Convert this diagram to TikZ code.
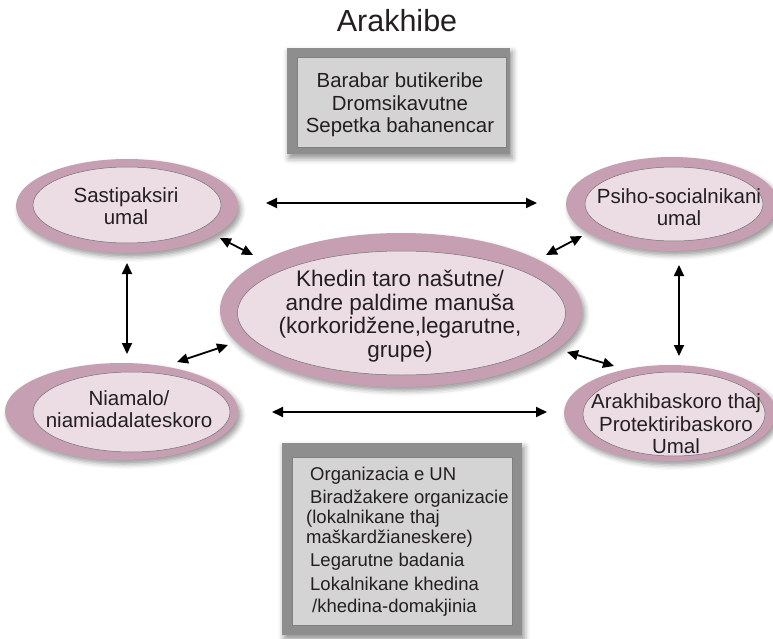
\documentclass[tikz,border=0pt]{standalone}
\usepackage{fontspec}
\setmainfont{Liberation Sans}
\usetikzlibrary{shapes.geometric,arrows.meta,shadows.blur}
\definecolor{mauve}{RGB}{199,159,179}
\definecolor{pinkin}{RGB}{236,221,228}
\definecolor{framegray}{RGB}{142,142,142}
\definecolor{boxin}{RGB}{212,212,212}
\definecolor{txt}{RGB}{35,31,32}
\begin{document}
\begin{tikzpicture}[x=1pt,y=-1pt,
  outerell/.style={ellipse, fill=mauve, inner sep=0pt, outer sep=0pt,
    blur shadow={shadow xshift=3pt, shadow yshift=-4pt, shadow blur radius=5pt, shadow opacity=40}},
  innerell/.style={ellipse, fill=pinkin, draw=black!55, line width=0.5pt, inner sep=0pt},
  framebox/.style={rectangle, fill=framegray, inner sep=0pt, anchor=north west,
    blur shadow={shadow xshift=2pt, shadow yshift=-4pt, shadow blur radius=6pt, shadow opacity=45}},
  innerbox/.style={rectangle, fill=boxin, draw=black!50, line width=0.5pt, inner sep=0pt, anchor=north west},
  elltxt/.style={align=center, inner sep=0pt, text=txt, font=\fontsize{20.5}{21.5}\selectfont},
  midtxt/.style={align=center, inner sep=0pt, text=txt, font=\fontsize{22.5}{23.5}\selectfont},
  toptxt/.style={align=center, inner sep=0pt, text=txt, font=\fontsize{20.4}{22.5}\selectfont},
  bottxt/.style={anchor=base west, inner sep=0pt, text=txt, font=\fontsize{18.5}{20}\selectfont},
  dbl/.style={{Triangle[length=11pt,width=10pt]}-{Triangle[length=11pt,width=10pt]}, line width=1.8pt, black}
]
\useasboundingbox (0,0) rectangle (773,639);

% title
\node[anchor=base, inner sep=0pt, text=txt, font=\fontsize{30.5}{31}\selectfont] (title) at (397,32) {Arakhibe};

% top box
\node[framebox, minimum width=223pt, minimum height=106pt] (topframe) at (287,48) {};
\node[innerbox, minimum width=209pt, minimum height=90pt] (topin) at (297,57) {};
\node[toptxt] (toptext) at (400,105) {Barabar butikeribe\\Dromsikavutne\\Sepetka bahanencar};

% bottom box
\node[framebox, minimum width=240pt, minimum height=192pt] (botframe) at (282,443) {};
\node[innerbox, minimum width=220pt, minimum height=168pt] (botin) at (292,457) {};
\node[bottxt] (b1) at (310,480) {Organizacia e UN};
\node[bottxt] (b2) at (310,503) {Biradžakere organizacie};
\node[bottxt] (b3) at (306,523) {(lokalnikane thaj};
\node[bottxt] (b4) at (306,543) {maškardžianeskere)};
\node[bottxt] (b5) at (310,566) {Legarutne badania};
\node[bottxt] (b6) at (310,590) {Lokalnikane khedina};
\node[bottxt] (b7) at (312,612) {/khedina-domakjinia};

% ellipses
\node[outerell, minimum width=222pt, minimum height=94pt] (tlo) at (127,206) {};
\node[innerell, minimum width=188pt, minimum height=76pt] (tli) at (127,205) {};
\node[elltxt] (tlt) at (126,206) {Sastipaksiri\\umal};

\node[outerell, minimum width=212pt, minimum height=94pt] (tro) at (672,204) {};
\node[innerell, minimum width=178pt, minimum height=74pt] (tri) at (674,204) {};
\node[elltxt] (trt) at (679,207) {Psiho-socialnikani\\umal};

\node[outerell, minimum width=362pt, minimum height=154pt] (cto) at (401,310) {};
\node[innerell, minimum width=328pt, minimum height=124pt] (cti) at (401.5,313) {};
\node[midtxt] (ctt) at (400,316) {Khedin taro našutne/\\andre paldime manuša\\(korkoridžene,legarutne,\\grupe)};

\node[outerell, minimum width=233pt, minimum height=97pt] (blo) at (121.5,411.5) {};
\node[innerell, minimum width=197pt, minimum height=80pt] (bli) at (131.5,412) {};
\node[elltxt] (blt) at (129,409) {Niamalo/\\niamiadalateskoro};

\node[outerell, minimum width=212pt, minimum height=96pt] (bro) at (670,413) {};
\node[innerell, minimum width=182pt, minimum height=84pt] (bri) at (674,414) {};
\node[elltxt, font=\fontsize{20.5}{22.5}\selectfont] (brt) at (676,424) {Arakhibaskoro thaj\\Protektiribaskoro\\Umal};

% arrow end points
\coordinate (h1a) at (266,203); \coordinate (h1b) at (537,203);
\coordinate (h2a) at (272,412); \coordinate (h2b) at (547,412);
\coordinate (v1a) at (127,263); \coordinate (v1b) at (127,354);
\coordinate (v2a) at (679,265); \coordinate (v2b) at (679,356);
\coordinate (d1a) at (220,238); \coordinate (d1b) at (253,255);
\coordinate (d2a) at (546,255); \coordinate (d2b) at (582,236);
\coordinate (d3a) at (177,362); \coordinate (d3b) at (228,345);
\coordinate (d4a) at (567,352); \coordinate (d4b) at (614,366);

\draw[dbl] (h1a) -- (h1b);
\draw[dbl] (h2a) -- (h2b);
\draw[dbl] (v1a) -- (v1b);
\draw[dbl] (v2a) -- (v2b);
\draw[dbl] (d1a) -- (d1b);
\draw[dbl] (d2a) -- (d2b);
\draw[dbl] (d3a) -- (d3b);
\draw[dbl] (d4a) -- (d4b);
\end{tikzpicture}
\end{document}
